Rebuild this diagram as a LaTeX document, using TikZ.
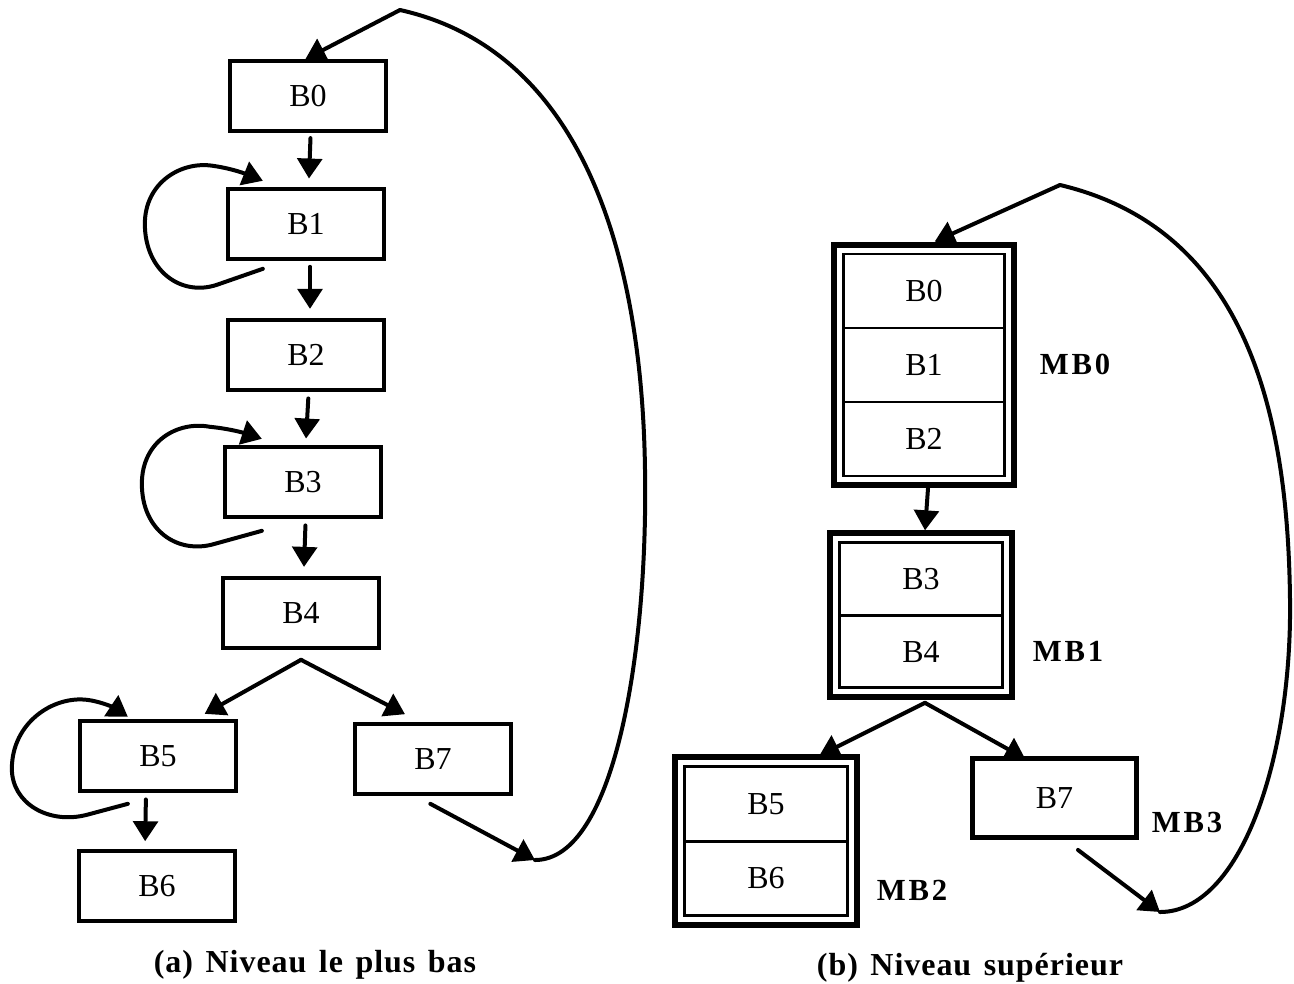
\documentclass[tikz,border=0pt]{standalone}
\usepackage{fontspec}
\setmainfont{Liberation Serif}
\newfontfamily\spacedbold[LetterSpace=9]{Liberation Serif}
\newfontfamily\captionfont[LetterSpace=3,WordSpace=1.4]{Liberation Serif}
\usetikzlibrary{arrows.meta,fit}

\begin{document}
\begin{tikzpicture}[x=0.75pt,y=-0.75pt,
  blk/.style={draw, line width=3.2pt, minimum width=117pt, minimum height=52pt,
    inner sep=0pt, font=\fontsize{24}{28}\selectfont},
  cell/.style={draw, line width=2.2pt, inner sep=0pt, outer sep=0pt,
    font=\fontsize{24}{28}\selectfont},
  frame/.style={draw, line width=4.6pt, inner sep=7pt, fit=#1},
  single/.style={draw, line width=3.9pt, inner sep=0pt,
    minimum width=123pt, minimum height=59pt, font=\fontsize{24}{28}\selectfont},
  arr/.style={line width=3pt, line cap=round, -{Triangle[length=15pt,width=18.5pt]}},
  link/.style={line width=3pt, line cap=round},
  mblabel/.style={font=\spacedbold\bfseries\fontsize{23}{26}\selectfont},
  caption/.style={font=\captionfont\bfseries\fontsize{24}{28}\selectfont}
]
\useasboundingbox (0,0) rectangle (1294,983);

% ---------- (a) lowest level ----------
\node[blk] (b0) at (308,96)  {B0};
\node[blk] (b1) at (306,224) {B1};
\node[blk] (b2) at (306,355) {B2};
\node[blk] (b3) at (303,482) {B3};
\node[blk] (b4) at (301,613) {B4};
\node[blk] (b5) at (158,756) {B5};
\node[blk] (b6) at (157,886) {B6};
\node[blk] (b7) at (433,759) {B7};

\draw[arr, shorten <=4pt, shorten >=6.5pt] ([xshift=2pt]b0.south) -- ([xshift=2pt]b1.north);
\draw[arr, shorten <=4.5pt, shorten >=7pt] ([xshift=3pt]b1.south) -- ([xshift=3pt]b2.north);
\draw[arr, shorten <=5pt, shorten >=5pt] ([xshift=2pt]b2.south) -- ([xshift=2pt]b3.north);
\draw[arr, shorten <=5pt, shorten >=7pt] ([xshift=2pt]b3.south) -- ([xshift=2pt]b4.north);
\draw[arr, shorten <=5pt, shorten >=6pt] ([xshift=-9pt]b5.south) -- ([xshift=-9pt]b6.north);

\coordinate (forkL) at ([yshift=-7.5pt]b4.south);
\draw[arr] (forkL) -- ([xshift=35pt,yshift=4pt]b5.north);
\draw[arr] (forkL) -- ([xshift=-21pt,yshift=6pt]b7.north);

% self loops
\draw[arr, shift={(b1.south west)}]
  (37,8) -- (-9,24) .. controls (-45,36) and (-81,10) .. (-81,-37)
  .. controls (-81,-78) and (-45,-100) .. (-13,-95)
  .. controls (8,-92) and (22,-86) .. (37,-80);
\draw[arr, shift={(b3.south west)}]
  (39,12) -- (-8,25) .. controls (-45,36) and (-81,12) .. (-81,-35)
  .. controls (-81,-78) and (-45,-98) .. (-13,-92)
  .. controls (8,-90) and (24,-85) .. (39,-80);
\draw[arr, shift={(b5.south west)}]
  (50,11) -- (9,22) .. controls (-30,32) and (-66,10) .. (-66,-24)
  .. controls (-66,-70) and (-25,-97) .. (9,-93)
  .. controls (25,-91) and (38,-84) .. (50,-76);

% return from B7 to B0
\coordinate (bendL) at (535,860);
\coordinate (topL) at (400,10);
\draw[arr] ([xshift=-2pt,yshift=-6pt]b7.south) -- (bendL);
\draw[link] (bendL) .. controls (615,860) and (648,650) .. (645,470)
  .. controls (642,250) and (580,50) .. (topL);
\draw[arr] (topL) -- ([xshift=-2pt]b0.north);

\node[caption] (capa) at (315,965) {(a) Niveau le plus bas};

% ---------- (b) upper level ----------
\node[cell, minimum width=120.75pt, minimum height=55.5pt] (c0) at (924,291) {B0};
\node[cell, minimum width=120.75pt, minimum height=55.5pt] (c1) at (924,365) {B1};
\node[cell, minimum width=120.75pt, minimum height=55.5pt] (c2) at (924,439) {B2};
\node[frame={(c0)(c1)(c2)}] (mb0) {};

\node[cell, minimum width=122pt, minimum height=54.4pt] (c3) at (921,579) {B3};
\node[cell, minimum width=122pt, minimum height=54.4pt] (c4) at (921,651.5) {B4};
\node[frame={(c3)(c4)}] (mb1) {};

\node[cell, minimum width=122pt, minimum height=56pt] (c5) at (766,804) {B5};
\node[cell, minimum width=122pt, minimum height=56pt] (c6) at (766,878.5) {B6};
\node[frame={(c5)(c6)}] (mb2) {};

\node[single] (mb3) at (1054.5,798) {B7};

\node[mblabel] (l0) at (1075,364) {MB0};
\node[mblabel] (l1) at (1068,651) {MB1};
\node[mblabel] (l2) at (912,890) {MB2};
\node[mblabel] (l3) at (1187,822) {MB3};

\draw[arr] ([xshift=3pt]mb0.south) -- ([xshift=3pt]mb1.north);
\coordinate (forkR) at ([xshift=3pt,yshift=-2pt]mb1.south);
\draw[arr] (forkR) -- ([xshift=40pt,yshift=-1pt]mb2.north);
\draw[arr] (forkR) -- ([xshift=-22pt,yshift=-2pt]mb3.north);

\coordinate (bendR) at (1160,912);
\coordinate (topR) at (1060,185);
\draw[arr] ([xshift=17.6pt,yshift=-7.5pt]mb3.south) -- (bendR);
\draw[link] (bendR) .. controls (1240,912) and (1292,760) .. (1290,600)
  .. controls (1288,420) and (1250,230) .. (topR);
\draw[arr] (topR) -- ([xshift=8pt]mb0.north);

\node[caption] (capb) at (970,968) {(b) Niveau supérieur};
\end{tikzpicture}
\end{document}
